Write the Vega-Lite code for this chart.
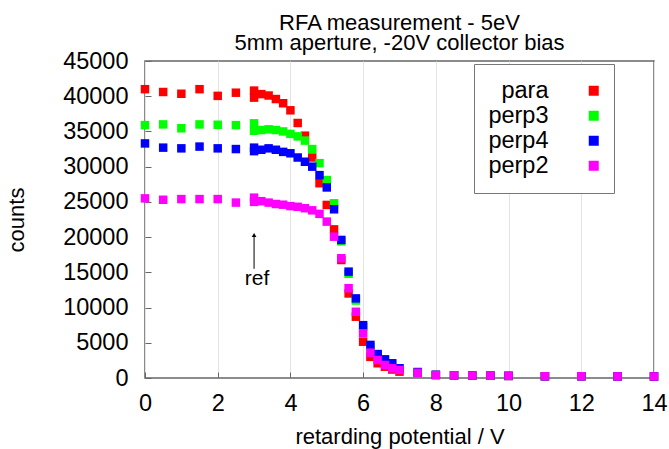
{
  "$schema": "https://vega.github.io/schema/vega-lite/v6.json",
  "width": 509,
  "height": 317,
  "autosize": {"type": "none"},
  "padding": {"left": 145, "top": 61, "right": 15, "bottom": 71},
  "background": "white",
  "config": {
    "font": "Liberation Sans",
    "view": {"stroke": "#666666", "strokeWidth": 1.5},
    "axis": {
      "labelFont": "Liberation Sans",
      "titleFont": "Liberation Sans",
      "labelColor": "black",
      "titleColor": "black",
      "titleFontWeight": "normal",
      "labelFontSize": 23.5,
      "titleFontSize": 22,
      "domain": false,
      "tickColor": "#666666",
      "tickSize": -6,
      "labelFlush": false,
      "labelOverlap": false
    }
  },
  "title": {
    "text": "RFA measurement - 5eV",
    "subtitle": "5mm aperture, -20V collector bias",
    "font": "Liberation Sans",
    "subtitleFont": "Liberation Sans",
    "fontSize": 22,
    "subtitleFontSize": 22,
    "fontWeight": "normal",
    "color": "black",
    "subtitleColor": "black",
    "anchor": "middle",
    "offset": -6,
    "subtitlePadding": -2
  },
  "datasets": {
    "meas": [
      {"series": "para", "v": 0, "counts": 41000},
      {"series": "para", "v": 0.5, "counts": 40600},
      {"series": "para", "v": 1, "counts": 40350},
      {"series": "para", "v": 1.5, "counts": 41000},
      {"series": "para", "v": 2, "counts": 40050},
      {"series": "para", "v": 2.5, "counts": 40500},
      {"series": "para", "v": 3, "counts": 40800},
      {"series": "para", "v": 3, "counts": 39800},
      {"series": "para", "v": 3.2, "counts": 40300},
      {"series": "para", "v": 3.4, "counts": 40100},
      {"series": "para", "v": 3.6, "counts": 39600},
      {"series": "para", "v": 3.8, "counts": 39000},
      {"series": "para", "v": 4, "counts": 38000},
      {"series": "para", "v": 4.2, "counts": 36200},
      {"series": "para", "v": 4.4, "counts": 34400},
      {"series": "para", "v": 4.6, "counts": 31300},
      {"series": "para", "v": 4.8, "counts": 27650},
      {"series": "para", "v": 5, "counts": 24570},
      {"series": "para", "v": 5.2, "counts": 21100},
      {"series": "para", "v": 5.4, "counts": 16750},
      {"series": "para", "v": 5.6, "counts": 12000},
      {"series": "para", "v": 5.8, "counts": 8700},
      {"series": "para", "v": 6, "counts": 5150},
      {"series": "para", "v": 6.2, "counts": 3000},
      {"series": "para", "v": 6.4, "counts": 2090},
      {"series": "para", "v": 6.6, "counts": 1600},
      {"series": "para", "v": 6.8, "counts": 1200},
      {"series": "para", "v": 7, "counts": 900},
      {"series": "para", "v": 7.5, "counts": 700},
      {"series": "para", "v": 8, "counts": 420},
      {"series": "para", "v": 8.5, "counts": 380},
      {"series": "para", "v": 9, "counts": 350},
      {"series": "para", "v": 9.5, "counts": 320},
      {"series": "para", "v": 10, "counts": 300},
      {"series": "para", "v": 11, "counts": 250},
      {"series": "para", "v": 12, "counts": 250},
      {"series": "para", "v": 13, "counts": 230},
      {"series": "para", "v": 14, "counts": 220},
      {"series": "perp3", "v": 0, "counts": 35900},
      {"series": "perp3", "v": 0.5, "counts": 36000},
      {"series": "perp3", "v": 1, "counts": 35450},
      {"series": "perp3", "v": 1.5, "counts": 36000},
      {"series": "perp3", "v": 2, "counts": 35950},
      {"series": "perp3", "v": 2.5, "counts": 35900},
      {"series": "perp3", "v": 3, "counts": 36150},
      {"series": "perp3", "v": 3, "counts": 35100},
      {"series": "perp3", "v": 3.2, "counts": 35200},
      {"series": "perp3", "v": 3.4, "counts": 35300},
      {"series": "perp3", "v": 3.6, "counts": 35200},
      {"series": "perp3", "v": 3.8, "counts": 35000},
      {"series": "perp3", "v": 4, "counts": 34650},
      {"series": "perp3", "v": 4.2, "counts": 34300},
      {"series": "perp3", "v": 4.4, "counts": 33700},
      {"series": "perp3", "v": 4.6, "counts": 32500},
      {"series": "perp3", "v": 4.8, "counts": 30500},
      {"series": "perp3", "v": 5, "counts": 28100},
      {"series": "perp3", "v": 5.2, "counts": 24800},
      {"series": "perp3", "v": 5.4, "counts": 19400},
      {"series": "perp3", "v": 5.6, "counts": 14800},
      {"series": "perp3", "v": 5.8, "counts": 11000},
      {"series": "perp3", "v": 6, "counts": 7200},
      {"series": "perp3", "v": 6.2, "counts": 4400},
      {"series": "perp3", "v": 6.4, "counts": 3200},
      {"series": "perp3", "v": 6.6, "counts": 2500},
      {"series": "perp3", "v": 6.8, "counts": 1900},
      {"series": "perp3", "v": 7, "counts": 1300},
      {"series": "perp3", "v": 7.5, "counts": 800},
      {"series": "perp3", "v": 8, "counts": 440},
      {"series": "perp3", "v": 8.5, "counts": 390},
      {"series": "perp3", "v": 9, "counts": 350},
      {"series": "perp3", "v": 9.5, "counts": 330},
      {"series": "perp3", "v": 10, "counts": 300},
      {"series": "perp3", "v": 11, "counts": 250},
      {"series": "perp3", "v": 12, "counts": 250},
      {"series": "perp3", "v": 13, "counts": 230},
      {"series": "perp3", "v": 14, "counts": 220},
      {"series": "perp4", "v": 0, "counts": 33300},
      {"series": "perp4", "v": 0.5, "counts": 32700},
      {"series": "perp4", "v": 1, "counts": 32600},
      {"series": "perp4", "v": 1.5, "counts": 32850},
      {"series": "perp4", "v": 2, "counts": 32600},
      {"series": "perp4", "v": 2.5, "counts": 32500},
      {"series": "perp4", "v": 3, "counts": 32700},
      {"series": "perp4", "v": 3, "counts": 32200},
      {"series": "perp4", "v": 3.2, "counts": 32400},
      {"series": "perp4", "v": 3.4, "counts": 32600},
      {"series": "perp4", "v": 3.6, "counts": 32400},
      {"series": "perp4", "v": 3.8, "counts": 32100},
      {"series": "perp4", "v": 4, "counts": 31900},
      {"series": "perp4", "v": 4.2, "counts": 31300},
      {"series": "perp4", "v": 4.4, "counts": 30700},
      {"series": "perp4", "v": 4.6, "counts": 30000},
      {"series": "perp4", "v": 4.8, "counts": 28800},
      {"series": "perp4", "v": 5, "counts": 27050},
      {"series": "perp4", "v": 5.2, "counts": 23950},
      {"series": "perp4", "v": 5.4, "counts": 19600},
      {"series": "perp4", "v": 5.6, "counts": 15100},
      {"series": "perp4", "v": 5.8, "counts": 11300},
      {"series": "perp4", "v": 6, "counts": 7500},
      {"series": "perp4", "v": 6.2, "counts": 4700},
      {"series": "perp4", "v": 6.4, "counts": 3400},
      {"series": "perp4", "v": 6.6, "counts": 2650},
      {"series": "perp4", "v": 6.8, "counts": 2090},
      {"series": "perp4", "v": 7, "counts": 1380},
      {"series": "perp4", "v": 7.5, "counts": 850},
      {"series": "perp4", "v": 8, "counts": 450},
      {"series": "perp4", "v": 8.5, "counts": 390},
      {"series": "perp4", "v": 9, "counts": 350},
      {"series": "perp4", "v": 9.5, "counts": 330},
      {"series": "perp4", "v": 10, "counts": 300},
      {"series": "perp4", "v": 11, "counts": 250},
      {"series": "perp4", "v": 12, "counts": 250},
      {"series": "perp4", "v": 13, "counts": 230},
      {"series": "perp4", "v": 14, "counts": 220},
      {"series": "perp2", "v": 0, "counts": 25500},
      {"series": "perp2", "v": 0.5, "counts": 25300},
      {"series": "perp2", "v": 1, "counts": 25400},
      {"series": "perp2", "v": 1.5, "counts": 25400},
      {"series": "perp2", "v": 2, "counts": 25400},
      {"series": "perp2", "v": 2.5, "counts": 24900},
      {"series": "perp2", "v": 3, "counts": 25600},
      {"series": "perp2", "v": 3, "counts": 25000},
      {"series": "perp2", "v": 3.2, "counts": 25100},
      {"series": "perp2", "v": 3.4, "counts": 24900},
      {"series": "perp2", "v": 3.6, "counts": 24700},
      {"series": "perp2", "v": 3.8, "counts": 24600},
      {"series": "perp2", "v": 4, "counts": 24400},
      {"series": "perp2", "v": 4.2, "counts": 24300},
      {"series": "perp2", "v": 4.4, "counts": 24100},
      {"series": "perp2", "v": 4.6, "counts": 23800},
      {"series": "perp2", "v": 4.8, "counts": 23300},
      {"series": "perp2", "v": 5, "counts": 22200},
      {"series": "perp2", "v": 5.2, "counts": 20060},
      {"series": "perp2", "v": 5.4, "counts": 17000},
      {"series": "perp2", "v": 5.6, "counts": 12750},
      {"series": "perp2", "v": 5.8, "counts": 9400},
      {"series": "perp2", "v": 6, "counts": 6350},
      {"series": "perp2", "v": 6.2, "counts": 3600},
      {"series": "perp2", "v": 6.4, "counts": 2550},
      {"series": "perp2", "v": 6.6, "counts": 1850},
      {"series": "perp2", "v": 6.8, "counts": 1380},
      {"series": "perp2", "v": 7, "counts": 1140},
      {"series": "perp2", "v": 7.5, "counts": 750},
      {"series": "perp2", "v": 8, "counts": 420},
      {"series": "perp2", "v": 8.5, "counts": 380},
      {"series": "perp2", "v": 9, "counts": 350},
      {"series": "perp2", "v": 9.5, "counts": 330},
      {"series": "perp2", "v": 10, "counts": 300},
      {"series": "perp2", "v": 11, "counts": 250},
      {"series": "perp2", "v": 12, "counts": 250},
      {"series": "perp2", "v": 13, "counts": 230},
      {"series": "perp2", "v": 14, "counts": 220}
    ],
    "note": [
      {"v": 3, "lo": 15500, "hi": 20300, "label": "ref", "ty": 14050}
    ]
  },
  "layer": [
    {
      "data": {"name": "meas"},
      "mark": {"type": "point", "shape": "square", "filled": true, "size": 72, "opacity": 1},
      "encoding": {
        "x": {
          "field": "v",
          "type": "quantitative",
          "scale": {"domain": [0, 14], "nice": false, "zero": false},
          "axis": {
            "values": [0, 2, 4, 6, 8, 10, 12, 14],
            "tickCount": 20,
            "format": "d",
            "grid": true,
            "gridColor": "#e3e3e3",
            "gridWidth": 1,
            "labelPadding": 19,
            "titlePadding": 12,
            "labelOverlap": false
          },
          "title": "retarding potential / V"
        },
        "y": {
          "field": "counts",
          "type": "quantitative",
          "scale": {"domain": [0, 45000], "nice": false},
          "axis": {
            "values": [0, 5000, 10000, 15000, 20000, 25000, 30000, 35000, 40000, 45000],
            "tickCount": 20,
            "grid": false,
            "format": "d",
            "labelPadding": 23,
            "titlePadding": 34,
            "labelOverlap": false,
            "labelBound": false
          },
          "title": "counts"
        },
        "color": {
          "field": "series",
          "type": "nominal",
          "scale": {
            "domain": ["para", "perp3", "perp4", "perp2"],
            "range": ["#ff0000", "#00ff00", "#0000ff", "#ff00ff"]
          },
          "legend": {
            "orient": "none",
            "legendX": 329,
            "legendY": 3,
            "title": null,
            "padding": 15,
            "strokeColor": "#777777",
            "fillColor": "white",
            "labelFont": "Liberation Sans",
            "labelFontSize": 23.5,
            "labelColor": "black",
            "labelAlign": "right",
            "labelOffset": -57,
            "symbolOffset": 93,
            "symbolType": "square",
            "symbolSize": 100,
            "symbolStrokeWidth": 0,
            "rowPadding": 0
          }
        }
      }
    },
    {
      "data": {"name": "note"},
      "mark": {"type": "rule", "color": "black", "strokeWidth": 1},
      "encoding": {
        "x": {"field": "v", "type": "quantitative"},
        "y": {"field": "lo", "type": "quantitative"},
        "y2": {"field": "hi"}
      }
    },
    {
      "data": {"name": "note"},
      "mark": {"type": "point", "shape": "triangle-up", "filled": true, "color": "black", "size": 22, "opacity": 1},
      "encoding": {
        "x": {"field": "v", "type": "quantitative"},
        "y": {"field": "hi", "type": "quantitative"}
      }
    },
    {
      "data": {"name": "note"},
      "mark": {"type": "text", "fontSize": 21, "font": "Liberation Sans", "color": "black", "align": "center", "baseline": "middle", "dx": 3},
      "encoding": {
        "x": {"field": "v", "type": "quantitative"},
        "y": {"field": "ty", "type": "quantitative"},
        "text": {"field": "label"}
      }
    }
  ]
}
